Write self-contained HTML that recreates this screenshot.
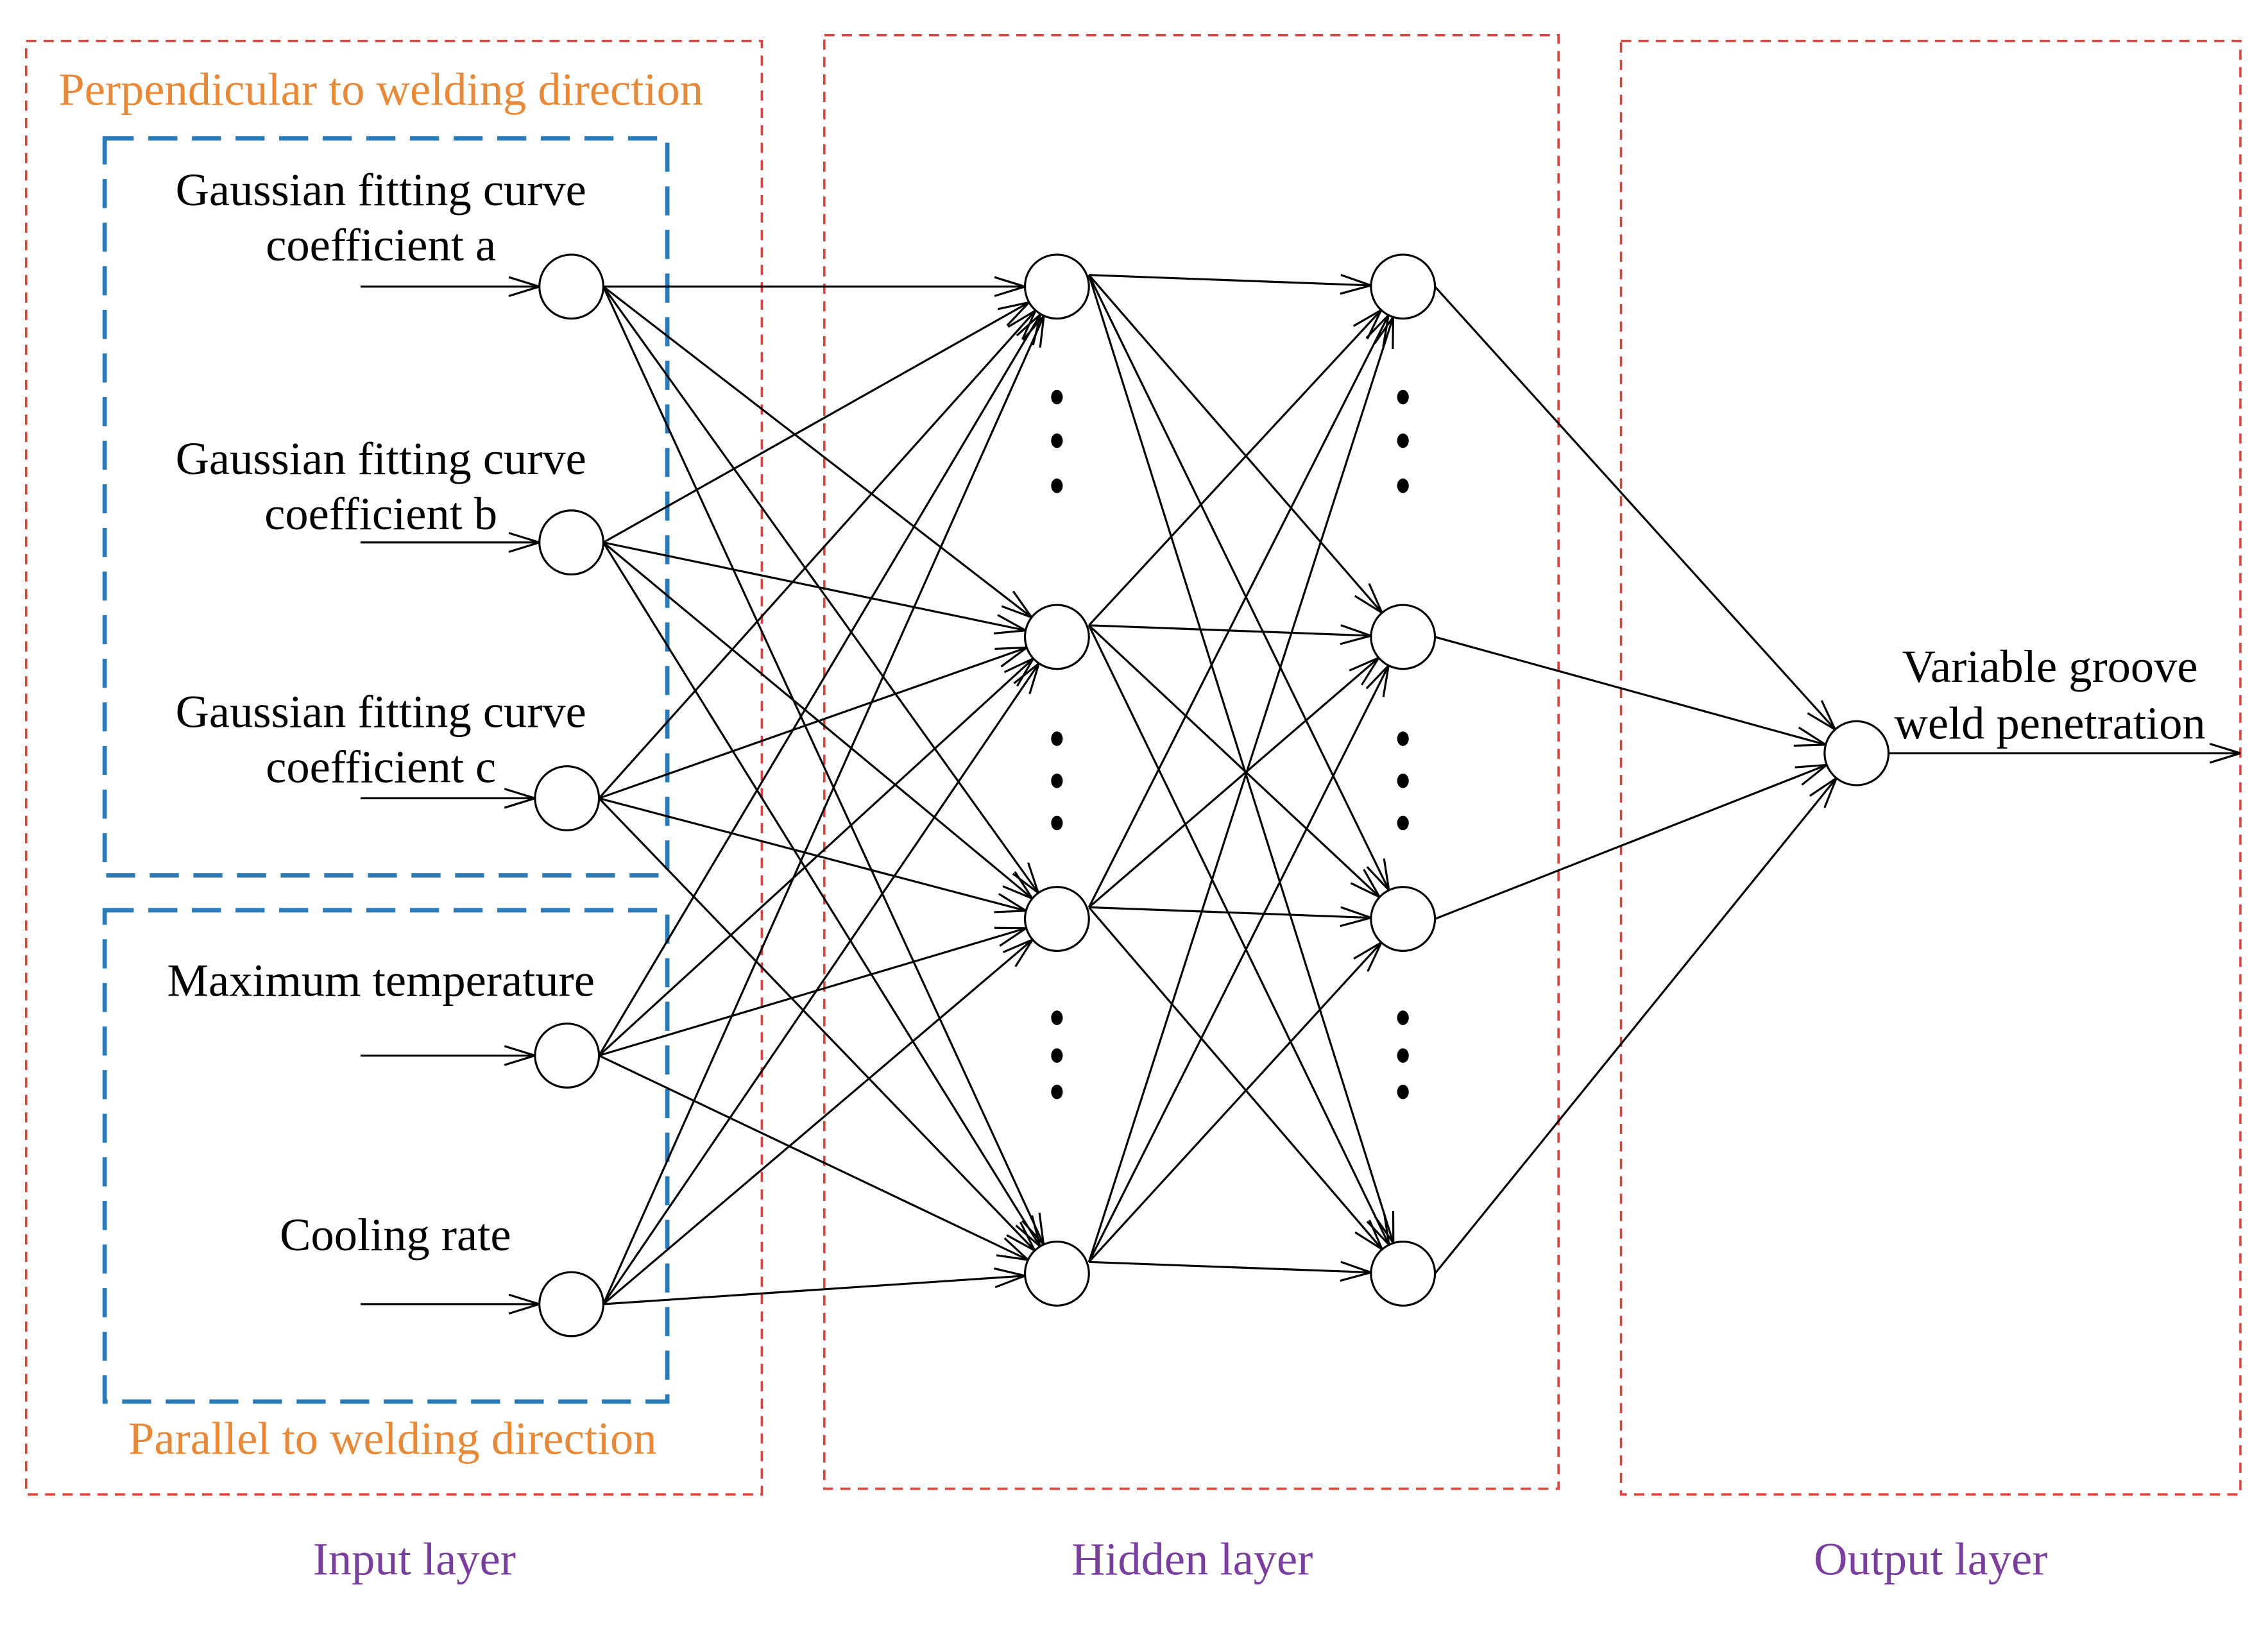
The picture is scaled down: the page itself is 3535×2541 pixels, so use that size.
<!DOCTYPE html>
<html><head><meta charset="utf-8"><style>
html,body{margin:0;padding:0;background:#fff}
svg{display:block}
text{font-family:"Liberation Serif",serif}
</style></head><body>
<svg id="s" width="3535" height="2541" viewBox="0 0 1560 1121" xmlns="http://www.w3.org/2000/svg">
<rect width="1560" height="1121" fill="#fff"/>
<g fill="none" stroke="#d8453f" stroke-width="1.6" stroke-dasharray="7,5">
<rect x="18" y="28" width="506" height="1000"/>
<rect x="567" y="24" width="505" height="1000"/>
<rect x="1115" y="28" width="426" height="1000"/>
</g>
<g fill="none" stroke="#2a7ab8" stroke-width="3" stroke-dasharray="20,10">
<rect x="72" y="95" width="387" height="507"/>
<rect x="72" y="626" width="387" height="338"/>
</g>
<g font-size="32" fill="#e8893a" text-anchor="middle">
<text x="262" y="72">Perpendicular to welding direction</text>
<text x="270" y="1000">Parallel to welding direction</text>
</g>
<g font-size="32" fill="#7a3f9e" text-anchor="middle">
<text x="285" y="1083">Input layer</text>
<text x="820" y="1083">Hidden layer</text>
<text x="1328" y="1083">Output layer</text>
</g>
<g font-size="32" fill="#000" text-anchor="middle">
<text x="262" y="141">Gaussian fitting curve</text>
<text x="262" y="179">coefficient a</text>
<text x="262" y="326">Gaussian fitting curve</text>
<text x="262" y="364">coefficient b</text>
<text x="262" y="500">Gaussian fitting curve</text>
<text x="262" y="538">coefficient c</text>
<text x="262" y="685">Maximum temperature</text>
<text x="272" y="860">Cooling rate</text>
<text x="1410" y="469">Variable groove</text>
<text x="1410" y="508">weld penetration</text>
</g>
<g id="lines" stroke="#000" stroke-width="1.4" fill="none"></g>
<g id="nodes" stroke="#000" stroke-width="1.4" fill="#fff"></g>
<g id="dots" fill="#000"></g>
</svg>
<script>
var NS="http://www.w3.org/2000/svg";
var L=document.getElementById('lines'),N=document.getElementById('nodes'),D=document.getElementById('dots');
var R=22;
var inp=[[393,197],[393,373],[390,549],[390,726],[393,897]];
var h1=[[727,197],[727,438],[727,632],[727,876]];
var h2=[[965,197],[965,438],[965,632],[965,876]];
var out=[[1277,518]];
function line(x1,y1,x2,y2){var l=document.createElementNS(NS,'line');l.setAttribute('x1',x1);l.setAttribute('y1',y1);l.setAttribute('x2',x2);l.setAttribute('y2',y2);L.appendChild(l);}
function arrow(x1,y1,x2,y2){line(x1,y1,x2,y2);var a=Math.atan2(y2-y1,x2-x1),len=22,w=0.3;
line(x2,y2,x2-len*Math.cos(a-w),y2-len*Math.sin(a-w));line(x2,y2,x2-len*Math.cos(a+w),y2-len*Math.sin(a+w));}
function conn(A,B,dy){A.forEach(function(s){B.forEach(function(t){var sx=s[0]+R,sy=s[1]+dy;
var dx=sx-t[0],dyy=sy-t[1],d=Math.hypot(dx,dyy);arrow(sx,sy,t[0]+dx/d*R,t[1]+dyy/d*R);});});}
inp.forEach(function(p){arrow(248,p[1],p[0]-R,p[1]);});
conn(inp,h1,0);conn(h1,h2,-8);conn(h2,out,0);
arrow(1277+R,518,1541,518);
[].concat(inp,h1,h2,out).forEach(function(p){var c=document.createElementNS(NS,'circle');c.setAttribute('cx',p[0]);c.setAttribute('cy',p[1]);c.setAttribute('r',R);N.appendChild(c);});
[727,965].forEach(function(x){[273,303,334,508,537,566,700,726,751].forEach(function(y){var c=document.createElementNS(NS,'ellipse');c.setAttribute('cx',x);c.setAttribute('cy',y);c.setAttribute('rx',4);c.setAttribute('ry',5);D.appendChild(c);});});
</script>
</body></html>
